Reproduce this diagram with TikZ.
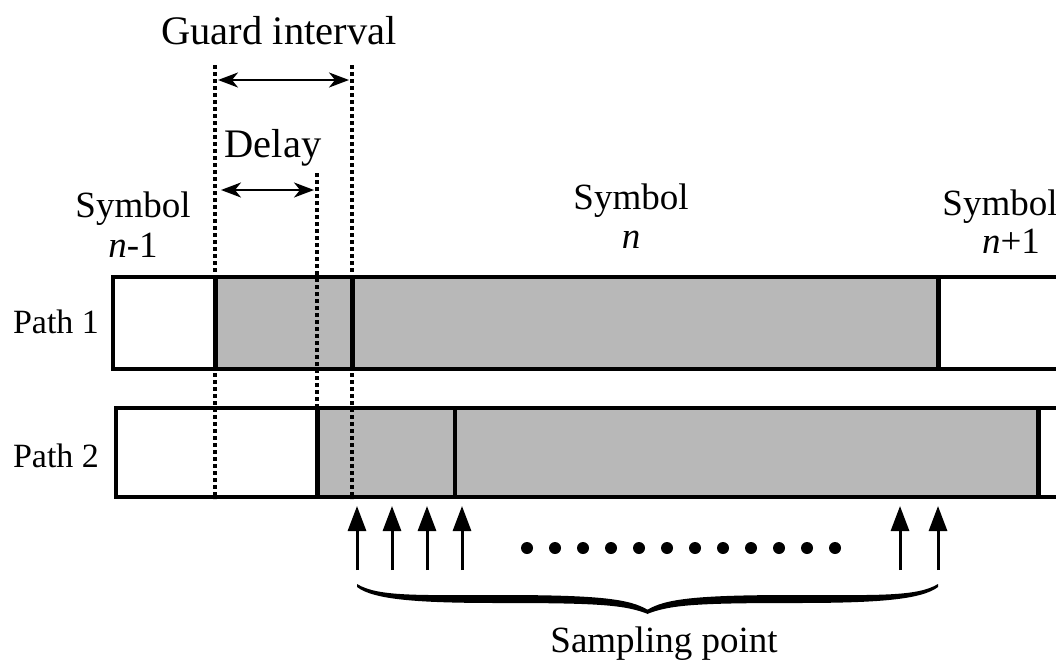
\documentclass[tikz,border=0pt]{standalone}
\usepackage{fontspec}
\setmainfont{Liberation Serif}
\usetikzlibrary{arrows.meta}
\definecolor{slotgray}{RGB}{184,184,184}
\tikzset{
  frame/.style={line width=3.5pt},
  divider/.style={line width=5pt},
  guide/.style={line width=3.8pt,dash pattern=on 4pt off 3pt},
  span/.style={line width=2.2pt,{Stealth[length=20pt,width=15pt,inset=6pt]}-{Stealth[length=20pt,width=15pt,inset=6pt]}},
  sample/.style={line width=3pt,-{Triangle[length=25pt,width=18pt]}},
  lbl/.style={inner sep=0pt,anchor=base,font=\fontsize{37}{40}\selectfont},
  biglbl/.style={inner sep=0pt,anchor=base,font=\fontsize{40.5}{44}\selectfont},
  pathlbl/.style={inner sep=0pt,anchor=base,font=\fontsize{34}{38}\selectfont},
  dotmark/.style={circle,fill=black,inner sep=0pt,minimum size=12pt}
}
% one half of a tapered brace, from its curled end to its tip
\newcommand{\halfbrace}{%
  \fill (357,584) .. controls (378,597) and (420,595) .. (500,595)
        .. controls (600,595) and (630,599) .. (648,610)
        -- (648,614)
        .. controls (625,605) and (600,603) .. (500,603)
        .. controls (420,603) and (374,600) .. (357,587) -- cycle;}
\begin{document}
\begin{tikzpicture}[x=1pt,y=-1pt]
\useasboundingbox (0,0) rectangle (1056,661);
% shaded symbol parts
\fill[slotgray] (215,277) rectangle (938,369);
\fill[slotgray] (317,408) rectangle (1038,497);
% guide lines
\coordinate (g1t) at (215,65);  \coordinate (g1b) at (215,499);
\coordinate (g2t) at (352,65);  \coordinate (g2b) at (352,499);
\coordinate (dlt) at (317,173); \coordinate (dlb) at (317,499);
\draw[guide] (g1t) -- (g1b);
\draw[guide] (g2t) -- (g2b);
\draw[guide] (dlt) -- (dlb);
\begin{scope}
\clip (0,0) rectangle (1056,661);
% path 1: symbol n-1 | guard + symbol n | symbol n+1
\draw[frame] (1080,277) -- (113,277) -- (113,369) -- (1080,369);
\draw[divider] (215,277) -- (215,369);
\draw[divider] (352,277) -- (352,369);
\draw[divider] (938,277) -- (938,369);
% path 2: delayed copy
\draw[frame] (1080,408) -- (116,408) -- (116,497) -- (1080,497);
\draw[divider] (317,408) -- (317,497);
\draw[line width=3.5pt] (455,408) -- (455,497);
\draw[divider] (1038,408) -- (1038,497);
\end{scope}
% interval arrows
\coordinate (gia) at (218,80);  \coordinate (gib) at (349,80);
\coordinate (dya) at (221,190); \coordinate (dyb) at (314,190);
\draw[span] (gia) -- (gib);
\draw[span] (dya) -- (dyb);
% labels
\node[biglbl] (guard) at (279,45) {Guard interval};
\node[biglbl] (delay) at (273,157) {Delay};
\node[lbl] (s1a) at (133,217) {Symbol};
\node[lbl] (s1b) at (133,257) {\textit{n}-1};
\node[lbl] (s2a) at (631,209) {Symbol};
\node[lbl] (s2b) at (631,248) {\textit{n}};
\node[lbl] (s3a) at (1000,215) {Symbol};
\node[lbl] (s3b) at (1011,253) {\textit{n}+1};
\node[pathlbl] (p1) at (56,333) {Path 1};
\node[pathlbl] (p2) at (56,467) {Path 2};
% sampling arrows
\foreach \i/\x in {1/357,2/392,3/427,4/462,5/900,6/938}{
  \coordinate (sb\i) at (\x,570);
  \coordinate (st\i) at (\x,506);
  \draw[sample] (sb\i) -- (st\i);
}
\foreach \i in {0,...,11}{
  \node[dotmark] (d\i) at (527+28*\i,548) {};
}
% brace under the sampling points
\halfbrace
\begin{scope}[xshift=1295pt,xscale=-1]
\halfbrace
\end{scope}
\node[lbl] (samp) at (664,652) {Sampling point};
\end{tikzpicture}
\end{document}
